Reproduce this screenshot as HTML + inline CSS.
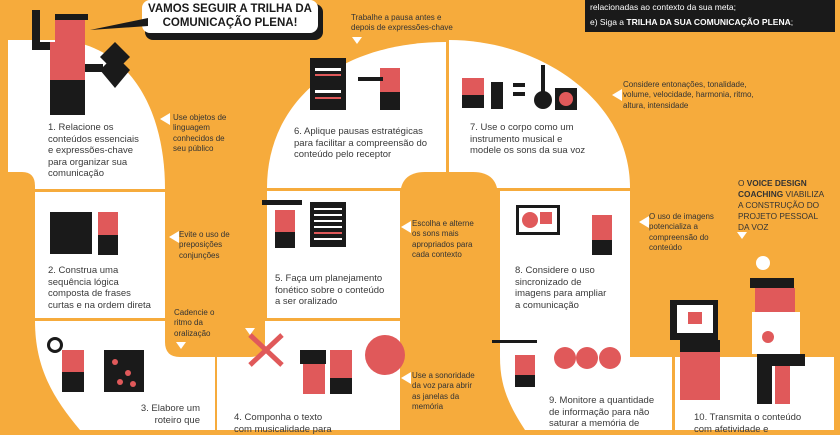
<!DOCTYPE html>
<html><head><meta charset="utf-8"><style>
html,body{margin:0;padding:0}
body{width:840px;height:430px;overflow:hidden;position:relative;background:#f6ab3c;font-family:"Liberation Sans",sans-serif;color:#3a3a3a}
svg{position:absolute;left:0;top:0}
.t{position:absolute;font-size:9.5px;line-height:11.5px;white-space:nowrap}
.s{position:absolute;font-size:8px;line-height:10.3px;white-space:nowrap;color:#333}
b{font-weight:bold}
</style></head><body>
<svg width="840" height="430" viewBox="0 0 840 430">
<!-- white regions -->
<path d="M8,40 H60 C130,45 165,110 165,189 H8 Z" fill="#fff"/>
<path d="M35,192 H165 V318 H35 Z" fill="#fff"/>
<path d="M35,321 H215 V430 H80 C55,400 35,370 35,321 Z" fill="#fff"/>
<path d="M217,321 H400 V430 H217 Z" fill="#fff"/>
<path d="M267,191 H400 V318 H267 Z" fill="#fff"/>
<path d="M267,188 C267,100 340,42 446,42 V188 Z" fill="#fff"/>
<path d="M449,40 C540,40 630,100 630,188 H449 Z" fill="#fff"/>
<path d="M500,191 H630 V357 H672 V430 H525 C505,400 500,380 500,357 Z" fill="#fff"/>
<path d="M675,357 H834 V430 H675 Z" fill="#fff"/>
<!-- orange shapes overlapping -->
<path d="M0,172 H22 Q35,172 35,186 V430 H0 Z" fill="#f6ab3c"/>
<path d="M165,0 H265 V342 Q265,357 250,357 H180 Q165,357 165,342 Z" fill="#f6ab3c"/>
<path d="M400,197 Q400,172 425,172 H473 Q498,172 498,197 V430 H400 Z" fill="#f6ab3c"/>
<path d="M630,0 H834 V337 Q834,355 816,355 H650 Q630,355 630,335 Z" fill="#f6ab3c"/>
<!-- bubble -->
<rect x="145" y="4" width="178" height="36" rx="8" fill="#1a1a1a"/>
<rect x="142" y="0" width="176" height="33" rx="8" fill="#fff"/>
<polygon points="148,18 90,30 148,26" fill="#1a1a1a"/>
<!-- black box -->
<rect x="585" y="0" width="250" height="32" fill="#1a1a1a"/>
<!-- triangles -->
<polygon points="160,119 170,113 170,125" fill="#fff"/>
<polygon points="352,37 362,37 357,44" fill="#fff"/>
<polygon points="612,95 622,89 622,101" fill="#fff"/>
<polygon points="169,237 179,231 179,243" fill="#fff"/>
<polygon points="401,227 411,221 411,233" fill="#fff"/>
<polygon points="639,222 649,216 649,228" fill="#fff"/>
<polygon points="737,232 747,232 742,239" fill="#fff"/>
<polygon points="176,342 186,342 181,349" fill="#fff"/>
<polygon points="245,328 255,328 250,335" fill="#fff"/>
<polygon points="401,378 411,372 411,384" fill="#fff"/>
<!-- figure 1 -->
<rect x="55" y="14" width="33" height="6" fill="#1a1a1a"/>
<rect x="55" y="20" width="30" height="22" fill="#e0595a"/>
<rect x="32" y="10" width="8" height="35" fill="#1a1a1a"/>
<rect x="32" y="42" width="28" height="8" fill="#1a1a1a"/>
<rect x="50" y="42" width="35" height="38" fill="#e0595a"/>
<rect x="85" y="64" width="18" height="8" fill="#1a1a1a"/>
<rect x="50" y="80" width="35" height="35" fill="#1a1a1a"/>
<polygon points="115,42 130,57 115,72 100,57" fill="#1a1a1a"/>
<polygon points="115,55 130,70 115,88 100,70" fill="#1a1a1a"/>
<!-- fig 6 -->
<rect x="310" y="58" width="36" height="52" fill="#1a1a1a"/>
<rect x="315" y="68" width="26" height="3" fill="#fff"/><rect x="315" y="74" width="26" height="2" fill="#e0595a"/>
<rect x="315" y="90" width="26" height="3" fill="#fff"/><rect x="315" y="97" width="26" height="2" fill="#e0595a"/>
<rect x="380" y="68" width="20" height="40" fill="#e0595a"/><rect x="380" y="92" width="20" height="18" fill="#1a1a1a"/>
<rect x="358" y="77" width="25" height="4" fill="#1a1a1a"/>
<!-- fig 7 -->
<rect x="462" y="78" width="22" height="30" fill="#e0595a"/><rect x="462" y="95" width="22" height="13" fill="#1a1a1a"/>
<rect x="491" y="82" width="12" height="27" fill="#1a1a1a"/>
<rect x="513" y="83" width="12" height="4" fill="#1a1a1a"/><rect x="513" y="92" width="12" height="4" fill="#1a1a1a"/>
<circle cx="543" cy="100" r="9" fill="#1a1a1a"/><rect x="541" y="65" width="4" height="30" fill="#1a1a1a"/>
<rect x="555" y="88" width="22" height="22" fill="#1a1a1a"/><circle cx="566" cy="99" r="7" fill="#e0595a"/>
<!-- fig 2 -->
<rect x="50" y="212" width="42" height="42" fill="#1a1a1a"/>
<rect x="98" y="212" width="20" height="42" fill="#e0595a"/><rect x="98" y="235" width="20" height="20" fill="#1a1a1a"/>
<!-- fig 5 -->
<rect x="262" y="200" width="40" height="5" fill="#1a1a1a"/>
<rect x="275" y="210" width="20" height="38" fill="#e0595a"/><rect x="275" y="232" width="20" height="16" fill="#1a1a1a"/>
<rect x="310" y="202" width="36" height="45" fill="#1a1a1a"/>
<rect x="314" y="208" width="28" height="2" fill="#fff"/><rect x="314" y="214" width="28" height="2" fill="#fff"/><rect x="314" y="220" width="28" height="2" fill="#fff"/><rect x="314" y="226" width="28" height="2" fill="#fff"/><rect x="314" y="232" width="28" height="2" fill="#e0595a"/><rect x="314" y="238" width="28" height="2" fill="#fff"/>
<!-- fig 3 -->
<circle cx="55" cy="345" r="8" fill="#1a1a1a"/><circle cx="55" cy="345" r="5" fill="#fff"/>
<rect x="62" y="350" width="22" height="42" fill="#e0595a"/><rect x="62" y="372" width="22" height="20" fill="#1a1a1a"/>
<rect x="104" y="350" width="40" height="42" fill="#1a1a1a"/>
<circle cx="115" cy="362" r="3" fill="#e0595a"/><circle cx="128" cy="373" r="3" fill="#e0595a"/><circle cx="120" cy="382" r="3" fill="#e0595a"/><circle cx="133" cy="384" r="3" fill="#e0595a"/>
<!-- fig 4 -->
<path d="M250,335 L282,365 M282,335 L250,365" stroke="#e0595a" stroke-width="5"/>
<rect x="300" y="350" width="26" height="14" fill="#1a1a1a"/><rect x="303" y="364" width="22" height="30" fill="#e0595a"/>
<rect x="330" y="350" width="22" height="44" fill="#e0595a"/><rect x="330" y="378" width="22" height="16" fill="#1a1a1a"/>
<circle cx="385" cy="355" r="20" fill="#e0595a"/>
<!-- fig 8 -->
<rect x="516" y="205" width="44" height="30" fill="#1a1a1a"/><rect x="519" y="208" width="38" height="24" fill="#fff"/>
<circle cx="530" cy="220" r="8" fill="#e0595a"/><rect x="540" y="212" width="12" height="12" fill="#e0595a"/>
<rect x="592" y="215" width="20" height="40" fill="#e0595a"/><rect x="592" y="240" width="20" height="15" fill="#1a1a1a"/>
<!-- fig 9 -->
<rect x="492" y="340" width="45" height="3" fill="#1a1a1a"/>
<rect x="515" y="355" width="20" height="32" fill="#e0595a"/><rect x="515" y="375" width="20" height="12" fill="#1a1a1a"/>
<circle cx="565" cy="358" r="11" fill="#e0595a"/><circle cx="587" cy="358" r="11" fill="#e0595a"/><circle cx="610" cy="358" r="11" fill="#e0595a"/>
<!-- fig 10 -->
<rect x="670" y="300" width="48" height="40" fill="#1a1a1a"/><rect x="677" y="305" width="36" height="28" fill="#fff"/>
<rect x="688" y="312" width="14" height="12" fill="#e0595a"/>
<rect x="680" y="340" width="40" height="12" fill="#1a1a1a"/><rect x="680" y="352" width="40" height="48" fill="#e0595a"/>
<rect x="755" y="288" width="40" height="25" fill="#e0595a"/><rect x="750" y="278" width="44" height="10" fill="#1a1a1a"/>
<rect x="752" y="312" width="48" height="42" fill="#fff"/><circle cx="768" cy="337" r="6" fill="#e0595a"/>
<rect x="757" y="354" width="48" height="12" fill="#1a1a1a"/><rect x="757" y="366" width="15" height="38" fill="#1a1a1a"/><rect x="775" y="366" width="15" height="38" fill="#e0595a"/>
<circle cx="763" cy="263" r="7" fill="#fff"/>
</svg>
<div style="position:absolute;left:142px;top:2px;width:176px;text-align:center;font-weight:bold;font-size:11.5px;line-height:14px;color:#1a1a1a">VAMOS SEGUIR A TRILHA DA<br>COMUNICAÇÃO PLENA!</div>
<div class="s" style="left:590px;top:2px;color:#fff;font-size:8.5px">relacionadas ao contexto da sua meta;</div>
<div class="s" style="left:590px;top:17px;color:#fff;font-size:8.5px">e) Siga a <b>TRILHA DA SUA COMUNICAÇÃO PLENA</b>;</div>
<div class="t" style="left:48px;top:122px">1. Relacione os<br>conteúdos essenciais<br>e expressões-chave<br>para organizar sua<br>comunicação</div>
<div class="s" style="left:173px;top:113px">Use objetos de<br>linguagem<br>conhecidos de<br>seu público</div>
<div class="s" style="left:351px;top:13px">Trabalhe a pausa antes e<br>depois de expressões-chave</div>
<div class="t" style="left:294px;top:126px">6. Aplique pausas estratégicas<br>para facilitar a compreensão do<br>conteúdo pelo receptor</div>
<div class="t" style="left:470px;top:122px">7. Use o corpo como um<br>instrumento musical e<br>modele os sons da sua voz</div>
<div class="s" style="left:623px;top:80px">Considere entonações, tonalidade,<br>volume, velocidade, harmonia, ritmo,<br>altura, intensidade</div>
<div class="s" style="left:738px;top:178px;font-size:8.3px;line-height:11px">O <b>VOICE DESIGN</b><br><b>COACHING</b> VIABILIZA<br>A CONSTRUÇÃO DO<br>PROJETO PESSOAL<br>DA VOZ</div>
<div class="s" style="left:649px;top:212px">O uso de imagens<br>potencializa a<br>compreensão do<br>conteúdo</div>
<div class="s" style="left:412px;top:219px">Escolha e alterne<br>os sons mais<br>apropriados para<br>cada contexto</div>
<div class="s" style="left:179px;top:230px">Evite o uso de<br>preposições<br>conjunções</div>
<div class="t" style="left:48px;top:265px">2. Construa uma<br>sequência lógica<br>composta de frases<br>curtas e na ordem direta</div>
<div class="t" style="left:275px;top:273px">5. Faça um planejamento<br>fonético sobre o conteúdo<br>a ser oralizado</div>
<div class="s" style="left:174px;top:308px">Cadencie o<br>ritmo da<br>oralização</div>
<div class="t" style="left:515px;top:265px">8. Considere o uso<br>sincronizado de<br>imagens para ampliar<br>a comunicação</div>
<div class="s" style="left:412px;top:371px">Use a sonoridade<br>da voz para abrir<br>as janelas da<br>memória</div>
<div class="t" style="left:100px;top:403px;width:100px;text-align:right">3. Elabore um<br>roteiro que</div>
<div class="t" style="left:234px;top:412px">4. Componha o texto<br>com musicalidade para</div>
<div class="t" style="left:549px;top:395px">9. Monitore a quantidade<br>de informação para não<br>saturar a memória de</div>
<div class="t" style="left:694px;top:412px">10. Transmita o conteúdo<br>com afetividade e</div>
</body></html>
